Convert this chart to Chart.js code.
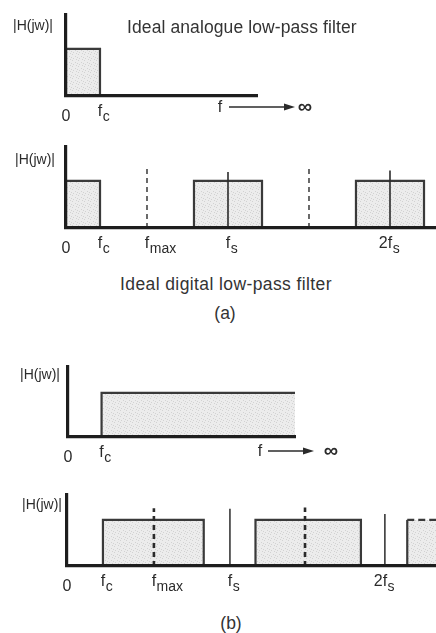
<!DOCTYPE html>
<html>
<head>
<meta charset="utf-8">
<script src="https://cdn.jsdelivr.net/npm/chart.js@4.4.1/dist/chart.umd.min.js"></script>
<style>
  body { margin: 0; background: #fff; width: 436px; height: 633px; position: relative; overflow: hidden;
         font-family: "Liberation Sans", sans-serif; color: #333; }
  canvas { position: absolute; left: 0; }
  .cap { position: absolute; font-size: 17.5px; line-height: 17.5px; white-space: nowrap; }
</style>
</head>
<body>
<canvas id="anaLow" width="436" height="130" style="top:0"></canvas>
<canvas id="digLow" width="436" height="130" style="top:135px"></canvas>
<canvas id="anaHigh" width="436" height="125" style="top:350px"></canvas>
<canvas id="digHigh" width="436" height="125" style="top:480px"></canvas>

<div class="cap" style="left:127px;top:19px;letter-spacing:0.1px">Ideal analogue low-pass filter</div>
<div class="cap" style="left:120px;top:276px;letter-spacing:0.4px">Ideal digital low-pass filter</div>
<div class="cap" style="left:225px;top:305px;transform:translateX(-50%)">(a)</div>
<div class="cap" style="left:231px;top:615px;transform:translateX(-50%)">(b)</div>

<script>
// frequencies in units of fs
// (a) analogue low-pass
const anaLowBands = [[0, 0.21]];
const anaLowTicks = [{ v: 0, t: "0" }, { v: 0.21, t: "f", s: "c" }];

// (a) digital low-pass
const digLowBands = [[0, 0.21], [0.79, 1.21], [1.79, 2.21]];
const digLowSolid = [1, 2];
const digLowSolidTop = [1.19, 1.22];
const digLowDashed = [0.5, 1.5];
const digLowDashedTop = [1.26, 1.27];
const digLowTicks = [
  { v: 0, t: "0" }, { v: 0.21, t: "f", s: "c" }, { v: 0.5, t: "f", s: "max" },
  { v: 1, t: "f", s: "s" }, { v: 2, t: "2f", s: "s" }
];

// (b) analogue high-pass (band runs on to infinity)
const anaHighBands = [[0.21, 1.42]];
const anaHighTicks = [{ v: 0, t: "0" }, { v: 0.21, t: "f", s: "c" }];

// (b) digital high-pass
const digHighBands = [[0.225, 0.856], [1.18, 1.84], [2.13, 2.6]];
const digHighSolid = [1.02, 1.99];
const digHighSolidTop = [1.24, 1.13];
const digHighDashed = [0.544, 1.49];
const digHighDashedTop = [1.25, 1.27];
const digHighTicks = [
  { v: 0, t: "0" }, { v: 0.225, t: "f", s: "c" }, { v: 0.544, t: "f", s: "max" },
  { v: 1.02, t: "f", s: "s" }, { v: 1.99, t: "2f", s: "s" }
];

const INK = "#2b2b2b";
const FONT = '"Liberation Sans", sans-serif';

// stippled grey fill like the printed figure
function stipple() {
  const c = document.createElement("canvas");
  c.width = 6; c.height = 6;
  const g = c.getContext("2d");
  g.fillStyle = "#ececec";
  g.fillRect(0, 0, 6, 6);
  g.fillStyle = "#d2d2d2";
  [[0, 0], [3, 2], [1, 4], [5, 3], [4, 5]].forEach(([x, y]) => g.fillRect(x, y, 1, 1));
  return g.createPattern(c, "repeat");
}
const fillPattern = stipple();

function bandSet(band, opts = {}) {
  const [a, b] = band;
  const pts = opts.open
    ? [{ x: a, y: 0 }, { x: a, y: 1 }, { x: b, y: 1 }]
    : [{ x: a, y: 0 }, { x: a, y: 1 }, { x: b, y: 1 }, { x: b, y: 0 }];
  const ds = {
    data: pts, showLine: true, pointRadius: 0, fill: "origin", order: 2,
    backgroundColor: fillPattern, borderColor: "#3a3a3a", borderWidth: 2.2, tension: 0
  };
  if (opts.dashTop) {
    ds.segment = { borderDash: (c) => (c.p0DataIndex === 1 ? [7, 4] : undefined) };
  }
  return ds;
}

function vline(x, top, dashed, width) {
  return {
    data: [{ x: x, y: 0 }, { x: x, y: top }], showLine: true, pointRadius: 0, fill: false, order: 1,
    borderColor: INK, borderWidth: width, borderDash: dashed ? [5, 4] : []
  };
}

const freqLabels = {
  id: "freqLabels",
  afterDraw(chart) {
    const o = chart.options.plugins.freqLabels;
    const { ctx, chartArea } = chart;
    const xs = chart.scales.x;
    ctx.save();
    ctx.fillStyle = INK;
    ctx.strokeStyle = INK;
    ctx.textAlign = "left";
    ctx.textBaseline = "alphabetic";
    o.ticks.forEach((tk) => {
      const px = xs.getPixelForValue(tk.v);
      ctx.font = "16px " + FONT;
      const w = ctx.measureText(tk.t).width;
      const lw = ctx.measureText(tk.t.slice(-1)).width;
      const x0 = px - w + lw / 2;
      const base = chartArea.bottom + (tk.s ? 20 : 25);
      ctx.fillText(tk.t, x0, base);
      if (tk.s) {
        ctx.font = "14px " + FONT;
        ctx.fillText(tk.s, x0 + w + 0.5, base + 5);
      }
    });
    // |H(jw)| label
    ctx.font = "14px " + FONT;
    ctx.textAlign = "right";
    ctx.fillText("|H(jw)|", chartArea.left - o.yGap, chartArea.top + o.yDy);
    // f ----> infinity
    if (o.arrow) {
      const a = o.arrow;
      ctx.textAlign = "center";
      ctx.font = "16px " + FONT;
      ctx.fillText("f", a.f, a.y + 5);
      ctx.lineWidth = 1.3;
      ctx.beginPath();
      ctx.moveTo(a.x1, a.y);
      ctx.lineTo(a.x2 - 8, a.y);
      ctx.stroke();
      ctx.beginPath();
      ctx.moveTo(a.x2, a.y);
      ctx.lineTo(a.x2 - 11, a.y - 3.5);
      ctx.lineTo(a.x2 - 11, a.y + 3.5);
      ctx.closePath();
      ctx.fill();
      ctx.font = "bold 20px " + FONT;
      ctx.fillText("\u221e", a.inf, a.y + 6);
    }
    ctx.restore();
  }
};

function makeChart(id, datasets, xMax, yMax, padding, labels) {
  const axis = (max) => ({
    type: "linear", min: 0, max: max, display: true,
    grid: { display: false, drawTicks: false },
    ticks: { display: false },
    border: { display: true, width: 3.2, color: "#1e1e1e", z: 1 }
  });
  return new Chart(document.getElementById(id), {
    type: "scatter",
    data: { datasets: datasets },
    options: {
      responsive: false, animation: false, devicePixelRatio: 1,
      layout: { padding: padding },
      scales: { x: axis(xMax), y: axis(yMax) },
      plugins: { legend: { display: false }, tooltip: { enabled: false }, freqLabels: labels }
    },
    plugins: [freqLabels]
  });
}

// (a) analogue low-pass
makeChart("anaLow", anaLowBands.map((b) => bandSet(b)), 1.18, 1.72,
  { left: 66, top: 15, right: 179, bottom: 34 },
  { ticks: anaLowTicks, yGap: 13, yDy: 15, arrow: { f: 220, x1: 229, x2: 295, inf: 305, y: 107 } });

// (a) digital low-pass
makeChart("digLow", [
  ...digLowBands.map((b) => bandSet(b)),
  ...digLowSolid.map((x, i) => vline(x, digLowSolidTop[i], false, 1.6)),
  ...digLowDashed.map((x, i) => vline(x, digLowDashedTop[i], true, 1.4))
], 2.284, 1.72, { left: 66, top: 12, right: 0, bottom: 37 },
  { ticks: digLowTicks, yGap: 11, yDy: 17 });

// (b) analogue high-pass
makeChart("anaHigh", anaHighBands.map((b) => bandSet(b, { open: true })), 1.42, 1.59,
  { left: 68, top: 17, right: 141, bottom: 38 },
  { ticks: anaHighTicks, yGap: 8, yDy: 12, arrow: { f: 260, x1: 268, x2: 314, inf: 331, y: 101 } });

// (b) digital high-pass
makeChart("digHigh", [
  bandSet(digHighBands[0]), bandSet(digHighBands[1]), bandSet(digHighBands[2], { open: true, dashTop: true }),
  ...digHighSolid.map((x, i) => vline(x, digHighSolidTop[i], false, 1.5)),
  ...digHighDashed.map((x, i) => vline(x, digHighDashedTop[i], true, 2.6))
], 2.31, 1.54, { left: 67, top: 15, right: 0, bottom: 39 },
  { ticks: digHighTicks, yGap: 5, yDy: 14 });
</script>
</body>
</html>
